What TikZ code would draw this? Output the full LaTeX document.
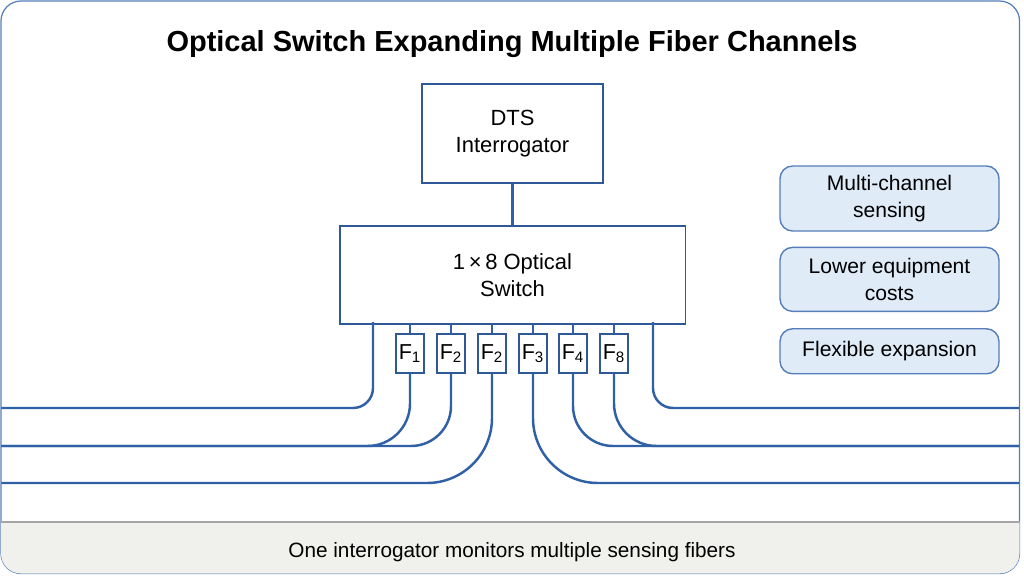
\documentclass[tikz,border=0pt]{standalone}
\usepackage{fontspec}
\setmainfont{Liberation Sans}
\usetikzlibrary{positioning}
\definecolor{lineblue}{RGB}{48,96,165}
\definecolor{edgeblue}{RGB}{46,88,150}
\definecolor{tagfill}{RGB}{224,235,248}
\definecolor{tagedge}{RGB}{85,125,185}
\definecolor{framegray}{RGB}{165,165,165}
\definecolor{footfill}{RGB}{240,240,237}
\tikzstyle{unit} = [rectangle, draw=edgeblue, line width=1.1pt, text centered, align=center, font=\fontsize{12.5}{15.4}\selectfont]
\tikzstyle{port} = [rectangle, draw=edgeblue, line width=1pt, minimum width=0.56cm, minimum height=0.78cm, inner sep=1pt, font=\fontsize{12.3}{14}\selectfont]
\tikzstyle{benefit} = [rectangle, rounded corners=0.25cm, draw=tagedge, fill=tagfill, line width=0.8pt, minimum width=4.38cm, text centered, align=center, font=\fontsize{12}{15}\selectfont]
\tikzstyle{fiber} = [draw=lineblue, line width=1.4pt]

\begin{document}
\begin{tikzpicture}[x=0.02cm,y=-0.02cm]
    \useasboundingbox (0,0) rectangle (1024,575);
    % frame and footer band
    \draw[tagedge, line width=0.7pt, rounded corners=0.4cm] (1,1) rectangle (1019.5,573.5);
    \fill[footfill] (1,522) {[rounded corners=0.4cm] -- (1,573.5) -- (1019.5,573.5)} -- (1019.5,522) -- cycle;
    \draw[framegray, line width=0.7pt] (1,522) -- (1019.5,522);

    \node (Title) [anchor=base, font=\fontsize{16.5}{19}\selectfont\bfseries] at (512,51) {Optical Switch Expanding Multiple Fiber Channels};

    \node (DTS) [unit, minimum width=3.62cm, minimum height=1.98cm] at (512.5,133.5) {DTS\\Interrogator};
    \node (Switch) [unit, minimum width=6.92cm, minimum height=1.96cm, below=0.82cm of DTS] {1\,×\,8 Optical\\Switch};
    \draw[fiber] (DTS) -- (Switch);

    \node (F1) [port] at (410,353.5) {F\textsubscript{1}};
    \node (F2a) [port] at (451,353.5) {F\textsubscript{2}};
    \node (F2b) [port] at (492,353.5) {F\textsubscript{2}};
    \node (F3) [port] at (533,353.5) {F\textsubscript{3}};
    \node (F4) [port] at (573,353.5) {F\textsubscript{4}};
    \node (F8) [port] at (614,353.5) {F\textsubscript{8}};

    \draw[fiber] (F1.north) -- (F1.north |- Switch.south);
    \draw[fiber] (F2a.north) -- (F2a.north |- Switch.south);
    \draw[fiber] (F2b.north) -- (F2b.north |- Switch.south);
    \draw[fiber] (F3.north) -- (F3.north |- Switch.south);
    \draw[fiber] (F4.north) -- (F4.north |- Switch.south);
    \draw[fiber] (F8.north) -- (F8.north |- Switch.south);

    % fiber ends at the frame
    \coordinate (OutL) at (373,322);
    \coordinate (OutR) at (653,322);
    \coordinate (EndL1) at (1.5,408);
    \coordinate (EndL2) at (1.5,446);
    \coordinate (EndL3) at (1.5,483);
    \coordinate (EndR1) at (1019,408);
    \coordinate (EndR2) at (1019,446);
    \coordinate (EndR3) at (1019,483);

    \draw[fiber, rounded corners=0.4cm] (OutL) |- (EndL1);
    \draw[fiber, rounded corners=0.85cm] (F1.south) |- (EndL2);
    \draw[fiber, rounded corners=0.8cm] (F2a.south) |- (EndL2);
    \draw[fiber, rounded corners=1.3cm] (F2b.south) |- (EndL3);
    \draw[fiber, rounded corners=1.3cm] (F3.south) |- (EndR3);
    \draw[fiber, rounded corners=0.8cm] (F4.south) |- (EndR2);
    \draw[fiber, rounded corners=0.85cm] (F8.south) |- (EndR2);
    \draw[fiber, rounded corners=0.4cm] (OutR) |- (EndR1);

    \node (Multi) [benefit, minimum height=1.3cm] at (889.5,198.5) {Multi-channel\\sensing};
    \node (Cost) [benefit, minimum height=1.28cm, below=0.3cm of Multi] {Lower equipment\\costs};
    \node (Flex) [benefit, minimum height=0.9cm, below=0.32cm of Cost] {Flexible expansion};

    \node (Foot) [anchor=base, font=\fontsize{11.8}{14}\selectfont] at (512,557) {One interrogator monitors multiple sensing fibers};
\end{tikzpicture}
\end{document}
